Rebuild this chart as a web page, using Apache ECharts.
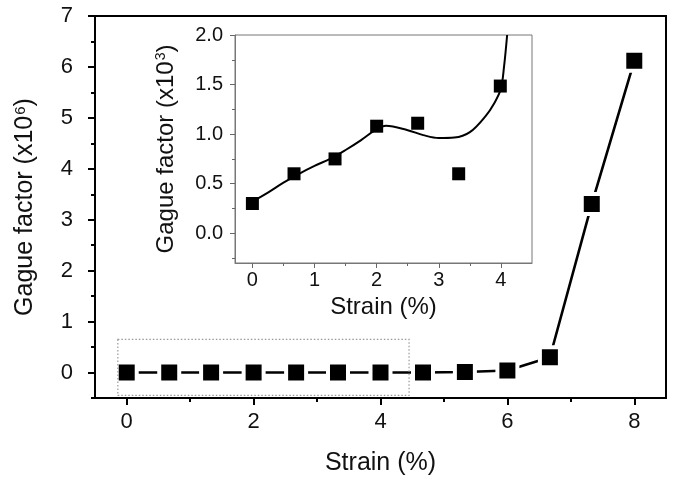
<!DOCTYPE html>
<html>
<head>
<meta charset="utf-8">
<script src="https://cdn.jsdelivr.net/npm/echarts@6/dist/echarts.min.js"></script>
<style>html,body{margin:0;padding:0;background:#fff}#c{width:673px;height:485px}</style>
</head>
<body>
<div id="c"></div>
<script>
// Main chart data
const mainStrain = [0, 0.67, 1.33, 2, 2.67, 3.33, 4, 4.67, 5.33, 6, 6.67, 7.33, 8];
const mainGF = [0, 0, 0, 0, 0, 0, 0, 0, 0.01, 0.04, 0.3, 3.31, 6.12];
const mainXMajor = [0, 2, 4, 6, 8];
const mainXMinor = [1, 3, 5, 7];
const mainYMajor = [0, 1, 2, 3, 4, 5, 6, 7];
const mainYMinor = [-0.5, 0.5, 1.5, 2.5, 3.5, 4.5, 5.5, 6.5];
// Inset data
const insetStrain = [0, 0.67, 1.33, 2, 2.66, 3.32, 3.99];
const insetGF = [0.3, 0.6, 0.75, 1.08, 1.11, 0.6, 1.485];
const fitStrain = [0, 0.25, 0.5, 0.75, 1, 1.25, 1.5, 1.75, 2, 2.15, 2.5, 2.75, 3, 3.25, 3.5, 3.75, 3.9, 4, 4.05, 4.1];
const fitGF = [0.32, 0.41, 0.51, 0.6, 0.68, 0.75, 0.84, 0.94, 1.05, 1.085, 1.04, 0.99, 0.96, 0.965, 1.02, 1.18, 1.32, 1.46, 1.68, 2.0];
const insetXMajor = [0, 1, 2, 3, 4];
const insetXMinor = [0.5, 1.5, 2.5, 3.5];
const insetYMajor = [0, 0.5, 1.0, 1.5, 2.0];
const insetYMinor = [-0.25, 0.25, 0.75, 1.25, 1.75];
// Dotted highlight box (data coordinates)
const boxStrain = [-0.14, 4.45];
const boxGF = [-0.45, 0.65];

const FONT = 'Liberation Sans, Arial, sans-serif';
const TXT = '#111';
const zip = (a, b) => a.map((v, i) => [v, b[i]]);

function supName(base, sup, size, supSize) {
  return {
    name: base + '{sup|' + sup + '})',
    nameTextStyle: {
      fontSize: size, fontFamily: FONT, color: TXT,
      rich: { sup: { fontSize: supSize, fontFamily: FONT, color: TXT, verticalAlign: 'top', padding: [0, 0, 0, 1] } }
    }
  };
}

const chart = echarts.init(document.getElementById('c'), null, { renderer: 'canvas' });
const mainLine = { show: true, onZero: false, lineStyle: { color: '#000', width: 2 } };
const insetLine = { show: true, onZero: false, lineStyle: { color: '#777', width: 1 } };
const noLine = { show: false, onZero: false };

const option = {
  animation: false,
  backgroundColor: '#fff',
  textStyle: { fontFamily: FONT },
  grid: [
    { left: 95, top: 16, right: 7, bottom: 87, show: true, borderColor: '#000', borderWidth: 2, backgroundColor: 'transparent' },
    { left: 235, top: 35, width: 297, height: 228, show: true, borderColor: '#777', borderWidth: 1, backgroundColor: 'transparent' }
  ],
  xAxis: [
    {
      type: 'value', gridIndex: 0, position: 'bottom', min: -0.5, max: 8.5,
      nameLocation: 'middle', name: 'Strain (%)', nameGap: 53,
      nameTextStyle: { fontSize: 25, fontFamily: FONT, color: TXT },
      axisLine: mainLine,
      axisTick: { show: true, inside: false, length: 7, lineStyle: { color: '#000', width: 2 }, customValues: mainXMajor },
      axisLabel: { show: true, margin: 13, fontSize: 22, color: TXT, fontFamily: FONT, customValues: mainXMajor },
      splitLine: { show: false }
    },
    {
      type: 'value', gridIndex: 0, position: 'bottom', min: -0.5, max: 8.5,
      axisLine: noLine,
      axisTick: { show: true, length: 4, lineStyle: { color: '#000', width: 2 }, customValues: mainXMinor },
      axisLabel: { show: false },
      splitLine: { show: false }
    },
    {
      type: 'value', gridIndex: 1, position: 'bottom', min: -0.28, max: 4.5,
      nameLocation: 'middle', name: 'Strain (%)', nameGap: 32,
      nameTextStyle: { fontSize: 24, fontFamily: FONT, color: TXT },
      axisLine: insetLine,
      axisTick: { show: true, length: 5, lineStyle: { color: '#666', width: 1 }, customValues: insetXMajor },
      axisLabel: { show: true, margin: 7, fontSize: 20, color: TXT, fontFamily: FONT, customValues: insetXMajor },
      splitLine: { show: false }
    },
    {
      type: 'value', gridIndex: 1, position: 'bottom', min: -0.28, max: 4.5,
      axisLine: noLine,
      axisTick: { show: true, length: 3, lineStyle: { color: '#666', width: 1 }, customValues: insetXMinor },
      axisLabel: { show: false },
      splitLine: { show: false }
    }
  ],
  yAxis: [
    Object.assign({
      type: 'value', gridIndex: 0, position: 'left', min: -0.5, max: 7,
      nameLocation: 'middle', nameGap: 57, nameRotate: 90,
      axisLine: mainLine,
      axisTick: { show: true, length: 7, lineStyle: { color: '#000', width: 2 }, customValues: mainYMajor },
      axisLabel: { show: true, margin: 22, fontSize: 22, color: TXT, fontFamily: FONT, customValues: mainYMajor },
      splitLine: { show: false }
    }, supName('Gague factor (x10', '6', 25, 15)),
    {
      type: 'value', gridIndex: 0, position: 'left', min: -0.5, max: 7,
      axisLine: noLine,
      axisTick: { show: true, length: 4, lineStyle: { color: '#000', width: 2 }, customValues: mainYMinor },
      axisLabel: { show: false },
      splitLine: { show: false }
    },
    Object.assign({
      type: 'value', gridIndex: 1, position: 'left', min: -0.3, max: 2.0,
      nameLocation: 'middle', nameGap: 57, nameRotate: 90,
      axisLine: insetLine,
      axisTick: { show: true, length: 5, lineStyle: { color: '#666', width: 1 }, customValues: insetYMajor },
      axisLabel: { show: true, margin: 12, fontSize: 20, color: TXT, fontFamily: FONT, customValues: insetYMajor,
        formatter: v => v.toFixed(1) },
      splitLine: { show: false }
    }, supName('Gague factor (x10', '3', 24, 14)),
    {
      type: 'value', gridIndex: 1, position: 'left', min: -0.3, max: 2.0,
      axisLine: noLine,
      axisTick: { show: true, length: 3, lineStyle: { color: '#666', width: 1 }, customValues: insetYMinor },
      axisLabel: { show: false },
      splitLine: { show: false }
    }
  ],
  series: [
    {
      type: 'line', xAxisIndex: 0, yAxisIndex: 0,
      data: zip(mainStrain, mainGF),
      symbol: 'rect', symbolSize: 20,
      lineStyle: { color: '#000', width: 2.6 },
      itemStyle: { color: '#000', borderColor: '#fff', borderWidth: 4, opacity: 1 },
      markArea: {
        z: 10, silent: true,
        itemStyle: { color: 'rgba(0,0,0,0)', borderColor: '#999', borderWidth: 1.2, borderType: [1.5, 2] },
        data: [[{ coord: [boxStrain[0], boxGF[1]] }, { coord: [boxStrain[1], boxGF[0]] }]]
      },
      z: 3
    },
    {
      type: 'line', xAxisIndex: 2, yAxisIndex: 2,
      data: zip(fitStrain, fitGF),
      symbol: 'none', smooth: 0.35, clip: true,
      lineStyle: { color: '#000', width: 2 },
      z: 3
    },
    {
      type: 'scatter', xAxisIndex: 2, yAxisIndex: 2,
      data: zip(insetStrain, insetGF),
      symbol: 'rect', symbolSize: 13,
      itemStyle: { color: '#000', opacity: 1 },
      z: 4
    }
  ]
};
chart.setOption(option);
</script>
</body>
</html>
